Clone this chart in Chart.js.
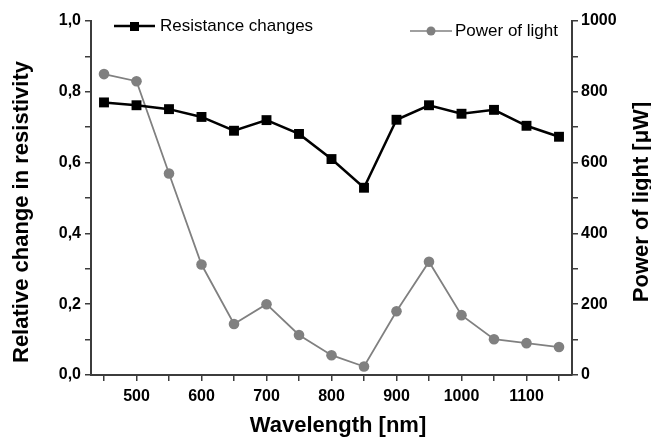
<!DOCTYPE html>
<html>
<head>
<meta charset="utf-8">
<script src="https://cdn.jsdelivr.net/npm/chart.js@4/dist/chart.umd.min.js"></script>
<style>
  html, body { margin: 0; padding: 0; background: #fff; }
  #wrap { width: 651px; height: 439px; }
</style>
</head>
<body>
<div id="wrap"><canvas id="spectrum"></canvas></div>
<script>
const wavelengths = [450, 500, 550, 600, 650, 700, 750, 800, 850, 900, 950, 1000, 1050, 1100, 1150];
const resistanceChange = [0.770, 0.762, 0.751, 0.729, 0.690, 0.720, 0.681, 0.610, 0.529, 0.721, 0.762, 0.738, 0.749, 0.704, 0.673];
const lightPower = [850, 830, 569, 312, 144, 200, 113, 56, 24, 180, 320, 169, 101, 90, 79];

const xTicks = [450, 500, 550, 600, 650, 700, 750, 800, 850, 900, 950, 1000, 1050, 1100, 1150];
const xLabels = ["500", "600", "700", "800", "900", "1000", "1100"];
const leftLabels = ["0,0", "0,2", "0,4", "0,6", "0,8", "1,0"];
const rightLabels = ["0", "200", "400", "600", "800", "1000"];

const axisColor = "#3c3c3c";
const boldTick = { family: "'Liberation Sans', Arial, sans-serif", size: 16, weight: "bold" };

const axisGrid = {
    display: true,
    drawOnChartArea: false,
    drawTicks: true,
    tickLength: 6,
    color: axisColor,
    lineWidth: 1.5,
};
const axisBorder = { display: true, color: axisColor, width: 2 };

// axis titles and the two legend entries are placed by hand
const decorations = {
    id: "decorations",
    afterDraw(chart) {
        const ctx = chart.ctx;
        const area = chart.chartArea;
        ctx.save();
        ctx.fillStyle = "#000";
        ctx.font = "bold 22px 'Liberation Sans', Arial, sans-serif";
        ctx.textAlign = "center";
        ctx.textBaseline = "alphabetic";
        ctx.fillText("Wavelength [nm]", 338, 432);

        ctx.save();
        ctx.translate(28, 212);
        ctx.rotate(-Math.PI / 2);
        ctx.fillText("Relative change in resistivity", 0, 0);
        ctx.restore();

        ctx.save();
        ctx.translate(648, 202);
        ctx.rotate(-Math.PI / 2);
        ctx.fillText("Power of light [\u03bcW]", 0, 0);
        ctx.restore();

        ctx.font = "17px 'Liberation Sans', Arial, sans-serif";
        ctx.textAlign = "left";
        ctx.textBaseline = "middle";

        // Resistance changes
        ctx.strokeStyle = "#000";
        ctx.lineWidth = 2.5;
        ctx.beginPath();
        ctx.moveTo(114, 26);
        ctx.lineTo(155, 26);
        ctx.stroke();
        ctx.fillRect(130, 22, 9, 9);
        ctx.fillText("Resistance changes", 160, 26);

        // Power of light
        ctx.strokeStyle = "#808080";
        ctx.fillStyle = "#808080";
        ctx.lineWidth = 1.5;
        ctx.beginPath();
        ctx.moveTo(410, 31);
        ctx.lineTo(452, 31);
        ctx.stroke();
        ctx.beginPath();
        ctx.arc(431, 31, 4.5, 0, Math.PI * 2);
        ctx.fill();
        ctx.fillStyle = "#000";
        ctx.fillText("Power of light", 455, 31);
        ctx.restore();
    },
};

new Chart(document.getElementById("spectrum"), {
    type: "line",
    data: {
        labels: wavelengths,
        datasets: [
            {
                label: "Resistance changes",
                data: wavelengths.map((w, i) => ({ x: w, y: resistanceChange[i] })),
                yAxisID: "y",
                borderColor: "#000",
                backgroundColor: "#000",
                borderWidth: 2.5,
                pointStyle: "rect",
                pointRadius: 7,
                pointBorderWidth: 0,
                tension: 0,
            },
            {
                label: "Power of light",
                data: wavelengths.map((w, i) => ({ x: w, y: lightPower[i] })),
                yAxisID: "y1",
                borderColor: "#808080",
                backgroundColor: "#808080",
                borderWidth: 1.8,
                pointStyle: "circle",
                pointRadius: 5.3,
                pointBorderWidth: 0,
                tension: 0,
            },
        ],
    },
    options: {
        responsive: true,
        maintainAspectRatio: false,
        animation: false,
        layout: { padding: { top: 21, left: 0, right: 0, bottom: 0 } },
        plugins: {
            legend: { display: false },
            tooltip: { enabled: false },
        },
        scales: {
            x: {
                type: "linear",
                min: 430,
                max: 1170,
                afterFit: (scale) => { scale.height = 64; },
                afterBuildTicks: (scale) => {
                    scale.ticks = xTicks.map((v) => ({ value: v }));
                },
                grid: axisGrid,
                border: axisBorder,
                ticks: {
                    font: boldTick,
                    color: "#000",
                    padding: 6,
                    maxRotation: 0,
                    autoSkip: false,
                    callback: (v) => (xLabels.includes(String(v)) ? String(v) : ""),
                },
            },
            y: {
                position: "left",
                min: 0,
                max: 1,
                afterFit: (scale) => { scale.width = 91; },
                grid: axisGrid,
                border: axisBorder,
                ticks: {
                    stepSize: 0.1,
                    font: boldTick,
                    color: "#000",
                    padding: 4,
                    autoSkip: false,
                    callback: (v) => {
                        const s = v.toFixed(1).replace(".", ",");
                        return leftLabels.includes(s) ? s : "";
                    },
                },
            },
            y1: {
                position: "right",
                min: 0,
                max: 1000,
                afterFit: (scale) => { scale.width = 79; },
                grid: axisGrid,
                border: axisBorder,
                ticks: {
                    stepSize: 100,
                    font: boldTick,
                    color: "#000",
                    padding: 3,
                    autoSkip: false,
                    callback: (v) => (rightLabels.includes(String(v)) ? String(v) : ""),
                },
            },
        },
    },
    plugins: [decorations],
});
</script>
</body>
</html>
